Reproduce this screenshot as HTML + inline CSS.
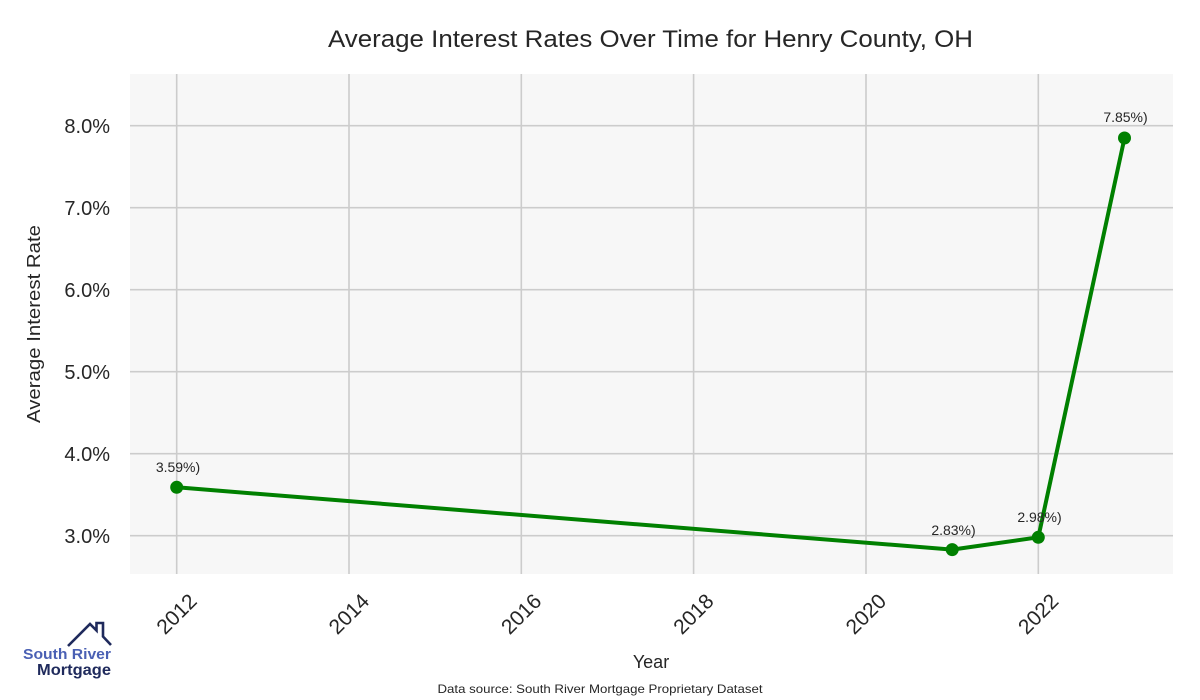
<!DOCTYPE html>
<html>
<head>
<meta charset="utf-8">
<style>
  html,body{margin:0;padding:0;background:#fff;}
  svg{display:block;}
  text{font-family:"Liberation Sans",sans-serif;fill:#262626;}
</style>
</head>
<body>
<svg width="1200" height="700" viewBox="0 0 1200 700" xmlns="http://www.w3.org/2000/svg">
  <rect x="0" y="0" width="1200" height="700" fill="#ffffff"/>
  <!-- plot area -->
  <rect x="130" y="74" width="1043" height="500" fill="#f7f7f7"/>
  <!-- grid -->
  <g stroke="#cccccc" stroke-width="1.6">
    <line x1="176.7" y1="74" x2="176.7" y2="574"/>
    <line x1="349" y1="74" x2="349" y2="574"/>
    <line x1="521.3" y1="74" x2="521.3" y2="574"/>
    <line x1="693.6" y1="74" x2="693.6" y2="574"/>
    <line x1="866" y1="74" x2="866" y2="574"/>
    <line x1="1038.3" y1="74" x2="1038.3" y2="574"/>
    <line x1="130" y1="535.7" x2="1173" y2="535.7"/>
    <line x1="130" y1="453.7" x2="1173" y2="453.7"/>
    <line x1="130" y1="371.7" x2="1173" y2="371.7"/>
    <line x1="130" y1="289.7" x2="1173" y2="289.7"/>
    <line x1="130" y1="207.7" x2="1173" y2="207.7"/>
    <line x1="130" y1="125.7" x2="1173" y2="125.7"/>
  </g>
  <!-- title -->
  <text x="650.5" y="47" font-size="24" text-anchor="middle" textLength="645" lengthAdjust="spacingAndGlyphs">Average Interest Rates Over Time for Henry County, OH</text>
  <!-- y tick labels -->
  <g font-size="20" text-anchor="end">
    <text x="110" y="543">3.0%</text>
    <text x="110" y="461">4.0%</text>
    <text x="110" y="379">5.0%</text>
    <text x="110" y="297">6.0%</text>
    <text x="110" y="215">7.0%</text>
    <text x="110" y="133">8.0%</text>
  </g>
  <!-- y axis label -->
  <text transform="translate(40,324) rotate(-90)" font-size="18" text-anchor="middle" textLength="198" lengthAdjust="spacingAndGlyphs">Average Interest Rate</text>
  <!-- x tick labels -->
  <g font-size="21" text-anchor="middle">
    <text transform="translate(176.7,614) rotate(-45)" dy="7">2012</text>
    <text transform="translate(349,614) rotate(-45)" dy="7">2014</text>
    <text transform="translate(521.3,614) rotate(-45)" dy="7">2016</text>
    <text transform="translate(693.6,614) rotate(-45)" dy="7">2018</text>
    <text transform="translate(866,614) rotate(-45)" dy="7">2020</text>
    <text transform="translate(1038.3,614) rotate(-45)" dy="7">2022</text>
  </g>
  <!-- x axis label -->
  <text x="651" y="668" font-size="18" text-anchor="middle">Year</text>
  <!-- data source -->
  <text x="600" y="693" font-size="12" text-anchor="middle" textLength="325" lengthAdjust="spacingAndGlyphs">Data source: South River Mortgage Proprietary Dataset</text>
  <!-- series -->
  <polyline points="176.7,487.3 952.2,549.6 1038.3,537.3 1124.5,138" fill="none" stroke="#008000" stroke-width="4" stroke-linejoin="round"/>
  <g fill="#008000">
    <circle cx="176.7" cy="487.3" r="6.5"/>
    <circle cx="952.2" cy="549.6" r="6.5"/>
    <circle cx="1038.3" cy="537.3" r="6.5"/>
    <circle cx="1124.5" cy="138" r="6.5"/>
  </g>
  <!-- data labels -->
  <g font-size="14" text-anchor="middle">
    <text x="178" y="472">3.59%)</text>
    <text x="953.5" y="535">2.83%)</text>
    <text x="1039.5" y="522">2.98%)</text>
    <text x="1125.5" y="122">7.85%)</text>
  </g>
  <!-- logo -->
  <polyline points="68,646 90,624 96.5,630.5 96.5,623 103,623 103,636.5 111,645" fill="none" stroke="#1f2a5c" stroke-width="2.6" stroke-linejoin="miter"/>
  <text x="111" y="659" font-size="15" font-weight="bold" text-anchor="end" style="fill:#4a60b4" textLength="88" lengthAdjust="spacingAndGlyphs">South River</text>
  <text x="111" y="675" font-size="16" font-weight="bold" text-anchor="end" style="fill:#1f2a5c" textLength="74" lengthAdjust="spacingAndGlyphs">Mortgage</text>
</svg>
</body>
</html>
